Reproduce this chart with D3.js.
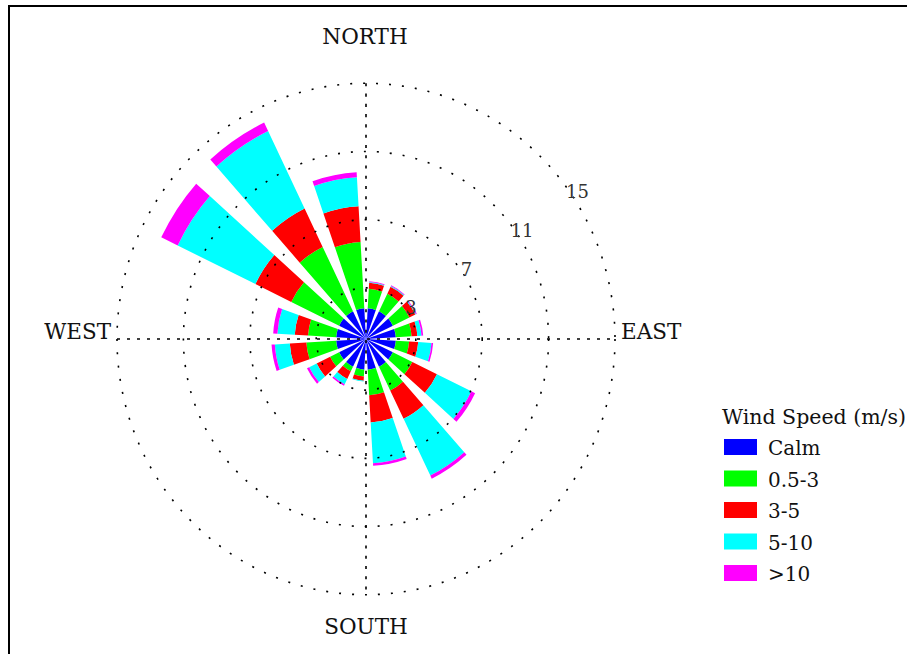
<!DOCTYPE html>
<html>
<head>
<meta charset="utf-8">
<script src="https://cdn.jsdelivr.net/npm/d3@7"></script>
<style>
  body { margin: 0; background: #fff; }
  text { font-family: "DejaVu Serif", "Liberation Serif", serif; fill: #111; }
</style>
</head>
<body>
<div class="rose-wrapper"></div>
<script>
let roseW = 907;
let roseH = 654;
let cx = 366;
let cy = 339;
let yStretch = 1.027;

// direction bins, start angle in degrees clockwise from north
let dirStarts = [0, 22.5, 45, 67.5, 90, 112.5, 135, 157.5, 180, 202.5, 225, 247.5, 270, 292.5, 315, 337.5];
let calm = 1.8;
// band values per direction (stacked outward from the calm circle)
let band05to3 = [1.15, 1.15, 1.1, 0.95, 0.8, 1.3, 1.55, 1.5, 0.4, 0.3, 0.6, 1.8, 1.7, 3.2, 4.2, 3.9];
let band3to5  = [0.35, 0.45, 0.4, 0.35, 0.55, 1.65, 1.85, 1.6, 0.25, 0.5, 0.9, 1.0, 0.8, 2.4, 2.5, 2.1];
let band5to10 = [0.05, 0.05, 0.05, 0.25, 0.8, 2.3, 3.7, 2.4, 0.05, 0.35, 0.5, 0.9, 1.05, 5.2, 5.05, 1.7];
let bandOver10 = [0.05, 0.05, 0.05, 0.1, 0.1, 0.25, 0.2, 0.15, 0.0, 0.1, 0.15, 0.2, 0.25, 1.1, 0.55, 0.3];

let legendLabels = ["Calm", "0.5-3", "3-5", "5-10", ">10"];
let legendColors = ["#0000ff", "#00ff00", "#ff0000", "#00ffff", "#ff00ff"];
let ringValues = [3, 7, 11, 15];
let compassLabels = ["NORTH", "EAST", "SOUTH", "WEST"];

let viz = d3.select(".rose-wrapper")
          .append("svg")
          .attr("width", roseW)
          .attr("height", roseH)
          .style("display", "block")
;

// frame (top and left edges)
viz.append("line").attr("x1", 9).attr("y1", 6).attr("x2", roseW).attr("y2", 6)
   .attr("stroke", "black").attr("stroke-width", 2);
viz.append("line").attr("x1", 9).attr("y1", 5).attr("x2", 9).attr("y2", roseH)
   .attr("stroke", "black").attr("stroke-width", 2);

let rScale = d3.scaleLinear().domain([0, 15]).range([0, 249]);
let toRad = Math.PI / 180;
let halfGap = 3.3;

let rose = viz.append("g")
              .attr("transform", "translate(" + cx + "," + cy + ") scale(1," + yStretch + ")");

// stack the bands for each direction
let bands = [band05to3, band3to5, band5to10, bandOver10];
let wedges = [];
dirStarts.forEach(function(start, i){
  wedges.push({start: start, inner: 0, outer: calm, color: legendColors[0]});
  let base = calm;
  bands.forEach(function(b, k){
    if (b[i] > 0) {
      wedges.push({start: start, inner: base, outer: base + b[i], color: legendColors[k + 1]});
    }
    base += b[i];
  });
});

let arc = d3.arc()
            .innerRadius(d => rScale(d.inner))
            .outerRadius(d => rScale(d.outer))
            .startAngle(d => (d.start + halfGap) * toRad)
            .endAngle(d => (d.start + 22.5 - halfGap) * toRad);

rose.selectAll(".wedge").data(wedges).enter()
    .append("path")
    .attr("class", "wedge")
    .attr("d", arc)
    .attr("fill", d => d.color)
;

// dotted rings and axes drawn over the petals
rose.selectAll(".ring").data(ringValues).enter()
    .append("circle")
    .attr("class", "ring")
    .attr("r", d => rScale(d))
    .attr("fill", "none")
    .attr("stroke", "black")
    .attr("stroke-width", 1.6)
    .attr("stroke-dasharray", "2,11")
;
let rMax = rScale(15);
rose.append("line").attr("x1", -rMax).attr("x2", rMax).attr("y1", 0).attr("y2", 0)
    .attr("stroke", "black").attr("stroke-width", 1.6).attr("stroke-dasharray", "3,7");
rose.append("line").attr("x1", 0).attr("x2", 0).attr("y1", -rMax).attr("y2", rMax)
    .attr("stroke", "black").attr("stroke-width", 1.6).attr("stroke-dasharray", "3,7");

// ring labels
let labelAngle = 34.5 * toRad;
viz.selectAll(".ringlabel").data(ringValues).enter()
   .append("text")
   .attr("class", "ringlabel")
   .attr("x", d => cx + (rScale(d) + 4) * Math.cos(labelAngle) + d * 0.2)
   .attr("y", d => cy - (rScale(d) + 4) * Math.sin(labelAngle) * yStretch)
   .attr("text-anchor", "middle")
   .attr("dominant-baseline", "central")
   .style("font-size", "18px")
   .style("fill", "#333")
   .text(d => d)
;

// compass labels
let compassPos = [
  {x: cx - 1, y: 44, anchor: "middle"},
  {x: 621, y: 339, anchor: "start"},
  {x: cx, y: 634, anchor: "middle"},
  {x: 111, y: 339, anchor: "end"}
];
viz.selectAll(".compass").data(compassLabels).enter()
   .append("text")
   .attr("class", "compass")
   .attr("x", (d, i) => compassPos[i].x)
   .attr("y", (d, i) => compassPos[i].y)
   .attr("text-anchor", (d, i) => compassPos[i].anchor)
   .style("font-size", "21.5px")
   .text(d => d)
;

// legend
let legend = viz.append("g").attr("transform", "translate(722,0)");
legend.append("text").attr("x", 0).attr("y", 424).style("font-size", "20.5px").text("Wind Speed (m/s)");
let legendY = d3.scalePoint().domain(legendLabels).range([439, 565]);
let items = legend.selectAll(".item").data(legendLabels).enter()
                  .append("g").attr("class", "item")
                  .attr("transform", d => "translate(0," + legendY(d) + ")");
items.append("rect").attr("x", 2).attr("y", 0).attr("width", 33).attr("height", 16)
     .attr("fill", (d, i) => legendColors[i]);
items.append("text").attr("x", 46).attr("y", 16).style("font-size", "20px").text(d => d);
</script>
</body>
</html>
